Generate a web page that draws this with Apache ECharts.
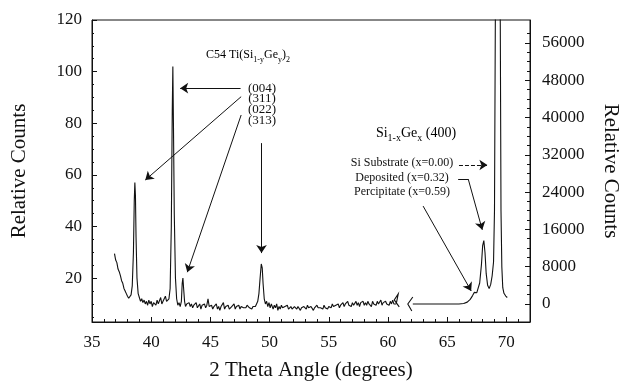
<!DOCTYPE html>
<html>
<head>
<meta charset="utf-8">
<script src="https://cdn.jsdelivr.net/npm/echarts@6/dist/echarts.min.js"></script>
<style>
  html, body { margin: 0; padding: 0; background: #fff; }
  #main { width: 622px; height: 384px; }
</style>
</head>
<body>
<div id="main"></div>
<script>
// C54 TiSi2 side of the scan, read on the left axis: [2theta, counts]
var c54Scan = [
  [36.9, 29.5], [37.0, 27], [37.1, 26], [37.2, 23.5], [37.3, 22.5], [37.4, 21], [37.5, 19],
  [37.6, 18], [37.7, 16], [37.8, 15], [37.9, 14], [38.0, 13], [38.1, 12.2], [38.2, 12.5],
  [38.3, 13.5], [38.4, 17], [38.5, 30], [38.57, 50], [38.62, 57], [38.67, 52], [38.72, 36],
  [38.8, 20], [38.9, 14], [39.0, 12.5], [39.1, 11], [39.2, 12], [39.3, 10.5], [39.4, 11.5],
  [39.5, 10], [39.6, 11], [39.7, 9.5], [39.8, 11.5], [39.9, 10], [40.0, 11], [40.1, 9],
  [40.2, 10.5], [40.3, 11], [40.4, 9.5], [40.5, 11.5], [40.6, 10], [40.7, 10.5], [40.8, 12.5],
  [40.9, 10], [41.0, 11], [41.1, 10.5], [41.2, 13], [41.3, 11], [41.4, 11.5], [41.5, 12],
  [41.6, 16], [41.7, 40], [41.78, 85], [41.83, 102], [41.88, 80], [41.95, 45], [42.05, 20],
  [42.15, 12], [42.25, 9.5], [42.35, 10.5], [42.45, 9], [42.55, 11], [42.62, 18], [42.68, 20],
  [42.74, 16], [42.82, 11], [42.9, 9], [43.0, 10], [43.1, 9.5], [43.2, 10.5], [43.3, 9],
  [43.4, 10], [43.5, 8.5], [43.6, 9.5], [43.7, 9], [43.8, 10.5], [43.9, 8.5], [44.0, 9],
  [44.1, 10], [44.2, 8], [44.3, 9.5], [44.4, 9], [44.5, 10], [44.6, 8.5], [44.7, 9.5],
  [44.8, 12], [44.9, 9], [45.0, 8.5], [45.1, 9.5], [45.2, 8], [45.3, 9], [45.4, 8.5],
  [45.5, 10], [45.6, 8], [45.7, 9], [45.8, 7.5], [45.9, 9], [46.0, 8.5], [46.1, 10.5],
  [46.2, 8], [46.3, 9], [46.4, 8.5], [46.5, 9.5], [46.6, 8], [46.7, 7.5], [46.8, 9],
  [46.9, 8.5], [47.0, 10], [47.1, 8], [47.2, 9], [47.3, 8.5], [47.4, 9.5], [47.5, 8],
  [47.6, 9], [47.7, 9.5], [47.8, 8.5], [47.9, 9], [48.0, 8.5], [48.1, 9.5], [48.2, 9],
  [48.3, 8.5], [48.4, 9], [48.5, 8], [48.6, 9], [48.7, 8.5], [48.8, 9], [48.9, 10],
  [49.0, 11], [49.1, 14], [49.2, 20], [49.3, 25.5], [49.38, 24], [49.45, 18], [49.55, 12],
  [49.65, 10], [49.75, 11], [49.85, 9], [49.95, 10.5], [50.05, 8.5], [50.15, 10], [50.25, 9.5],
  [50.3, 8], [50.4, 9.5], [50.5, 8.5], [50.6, 10], [50.7, 7.5], [50.8, 9], [50.9, 8],
  [51.0, 9.5], [51.1, 8.5], [51.2, 8], [51.3, 9], [51.4, 8.5], [51.5, 9.5], [51.6, 8],
  [51.7, 8.5], [51.8, 9], [51.9, 8], [52.0, 8.5], [52.1, 9], [52.2, 8.5], [52.3, 8],
  [52.4, 9], [52.5, 8.5], [52.6, 7.5], [52.7, 8.5], [52.8, 8], [52.9, 9], [53.0, 8.5],
  [53.1, 8], [53.2, 9.5], [53.3, 8.5], [53.4, 8], [53.5, 9], [53.6, 8.5], [53.7, 7.5],
  [53.8, 8.5], [53.9, 8], [54.0, 9.5], [54.1, 8.5], [54.2, 8], [54.3, 8.5], [54.4, 9],
  [54.5, 8], [54.6, 9.5], [54.7, 8.5], [54.8, 9], [54.9, 8], [55.0, 9], [55.1, 9.5],
  [55.2, 8.5], [55.3, 10], [55.4, 9], [55.5, 8.5], [55.6, 9.5], [55.7, 9], [55.8, 10],
  [55.9, 8.5], [56.0, 9.5], [56.1, 9], [56.2, 10.5], [56.3, 9], [56.4, 10], [56.5, 9.5],
  [56.6, 11], [56.7, 9.5], [56.8, 10], [56.9, 9], [57.0, 10.5], [57.1, 9.5], [57.2, 10],
  [57.3, 11], [57.4, 9.5], [57.5, 10.5], [57.6, 9], [57.7, 10.5], [57.8, 10], [57.9, 11],
  [58.0, 9.5], [58.1, 10.5], [58.2, 9.5], [58.3, 11], [58.4, 10], [58.5, 10.5], [58.6, 9],
  [58.7, 11], [58.8, 10], [58.9, 10.5], [59.0, 9.5], [59.1, 11], [59.2, 10], [59.3, 10.5],
  [59.4, 11.5], [59.5, 9.5], [59.6, 10.5], [59.7, 10], [59.8, 11], [59.9, 10], [60.0, 10.5],
  [60.1, 9.5], [60.2, 11], [60.3, 10], [60.4, 11.5], [60.5, 10], [60.6, 10.5], [60.7, 10]
];

// Si1-xGe(400) side of the scan, read on the right axis: [2theta, counts]
var sigeScan = [
  [62.1, 0], [63.0, 0], [64.0, 0], [65.0, 0], [66.0, 0], [66.4, 100], [66.7, 400],
  [66.95, 1000], [67.15, 1800], [67.3, 2500], [67.4, 2700], [67.5, 2400], [67.6, 2800],
  [67.75, 4500], [67.9, 8500], [68.0, 12500], [68.1, 13600], [68.2, 11000], [68.3, 6500],
  [68.42, 4000], [68.55, 3300], [68.68, 4200], [68.8, 6000], [68.92, 9000], [69.0, 20000],
  [69.07, 60000], [69.15, 82000], [69.28, 95000], [69.4, 82000], [69.49, 60000],
  [69.55, 20000], [69.62, 8000], [69.7, 3500], [69.8, 2300], [69.95, 1700], [70.08, 1400]
];

var xTicks = [35, 40, 45, 50, 55, 60, 65, 70];
var leftTicks = [20, 40, 60, 80, 100, 120];
var rightTicks = [0, 8000, 16000, 24000, 32000, 40000, 48000, 56000];
var millerLabels = ['(004)', '(311)', '(022)', '(313)'];
var sigeLabels = ['Si Substrate (x=0.00)', 'Deposited (x=0.32)', 'Percipitate (x=0.59)'];

var FONT = 'Liberation Serif';
var INK = '#111';

var leftMinor = [];
for (var v = 5; v < 120; v += 5) if (v % 20) leftMinor.push(v);
var rightMinor = [];
for (var w = 2000; w < 60000; w += 2000) if (w % 8000) rightMinor.push(w);

function arrow(from, to, extra) {
  var a = { coord: from, symbol: 'none' };
  var b = Object.assign({ coord: to }, extra || {});
  return [a, b];
}

var chart = echarts.init(document.getElementById('main'));

var option = {
  animation: false,
  grid: { left: 92, right: 92, top: 20, bottom: 62, show: true, borderColor: INK, borderWidth: 1,
    outerBoundsMode: 'none', containLabel: false },
  xAxis: {
    type: 'value', min: 35, max: 72, interval: 5,
    name: '2 Theta Angle (degrees)', nameLocation: 'middle', nameGap: 38,
    nameTextStyle: { fontFamily: FONT, fontSize: 21, color: INK },
    axisLine: { onZero: false, lineStyle: { color: INK } },
    axisTick: { inside: true, length: 5, lineStyle: { color: INK } },
    minorTick: { show: true, splitNumber: 5, length: 3, lineStyle: { color: INK } },
    axisLabel: { fontFamily: FONT, fontSize: 17, color: INK, margin: 12, customValues: xTicks },
    splitLine: { show: false }
  },
  yAxis: [
    {
      type: 'value', position: 'left', min: 3, max: 120,
      name: 'Relative Counts', nameLocation: 'middle', nameGap: 62,
      nameTextStyle: { fontFamily: FONT, fontSize: 21, color: INK },
      axisLine: { show: true, onZero: false, lineStyle: { color: INK } },
      axisTick: { show: true, inside: true, length: 5, customValues: leftTicks, lineStyle: { color: INK } },
      axisLabel: { fontFamily: FONT, fontSize: 17, color: INK, margin: 10, customValues: leftTicks },
      splitLine: { show: false }
    },
    {
      type: 'value', position: 'right', min: -3860, max: 60900,
      name: 'Relative Counts', nameLocation: 'middle', nameGap: 70, nameRotate: -90,
      nameTextStyle: { fontFamily: FONT, fontSize: 21, color: INK },
      axisLine: { show: true, onZero: false, lineStyle: { color: INK } },
      axisTick: { show: true, inside: true, length: 5, customValues: rightTicks, lineStyle: { color: INK } },
      axisLabel: { fontFamily: FONT, fontSize: 17, color: INK, margin: 12, customValues: rightTicks,
        formatter: function (val) { return String(val); } },
      splitLine: { show: false }
    },
    {
      type: 'value', position: 'left', min: 3, max: 120,
      axisLine: { show: false, onZero: false },
      axisTick: { show: true, inside: true, length: 2, customValues: leftMinor, lineStyle: { color: INK } },
      axisLabel: { show: false }, splitLine: { show: false }
    },
    {
      type: 'value', position: 'right', min: -3860, max: 60900,
      axisLine: { show: false, onZero: false },
      axisTick: { show: true, inside: true, length: 3, customValues: rightMinor, lineStyle: { color: INK } },
      axisLabel: { show: false }, splitLine: { show: false }
    }
  ],
  series: [
    {
      name: 'C54', type: 'line', xAxisIndex: 0, yAxisIndex: 0,
      data: c54Scan, showSymbol: false, silent: true,
      lineStyle: { color: INK, width: 1.1 },
      markLine: {
        silent: true, animation: false, symbol: ['none', 'arrow'], symbolSize: 8,
        label: { show: false },
        lineStyle: { color: INK, width: 1, type: 'solid' },
        data: [
          arrow([47.55, 93.6], [42.45, 93.6]),
          arrow([47.6, 90.3], [39.5, 58]),
          arrow([47.6, 83.2], [43.05, 22.3]),
          arrow([49.32, 72.3], [49.32, 29.7])
        ]
      }
    },
    {
      name: 'SiGe', type: 'line', xAxisIndex: 0, yAxisIndex: 1,
      data: sigeScan, showSymbol: false, silent: true,
      lineStyle: { color: INK, width: 1.1 },
      markLine: {
        silent: true, animation: false, symbol: ['none', 'arrow'], symbolSize: 8,
        label: { show: false },
        lineStyle: { color: INK, width: 1, type: 'solid' },
        data: [
          [{ coord: [66.0, 29800], symbol: 'none', lineStyle: { type: 'dashed' } }, { coord: [68.4, 29800] }],
          arrow([65.93, 26800], [66.78, 26800], { symbol: 'none' }),
          arrow([66.78, 26800], [67.97, 15900]),
          arrow([62.97, 21000], [67.03, 2800])
        ]
      }
    }
  ]
};

chart.setOption(option);

function rich(size, sub) {
  return {
    n: { fontFamily: FONT, fontSize: size, color: INK, verticalAlign: 'bottom', padding: [0, 0, 3, 0] },
    s: { fontFamily: FONT, fontSize: sub, color: INK, verticalAlign: 'bottom' }
  };
}

// axis break marks, anchored on the two scan ends
var p1 = chart.convertToPixel({ xAxisIndex: 0, yAxisIndex: 0 }, c54Scan[c54Scan.length - 1]);
var p2 = chart.convertToPixel({ xAxisIndex: 0, yAxisIndex: 1 }, sigeScan[0]);

chart.setOption({
  graphic: [
    {
      type: 'text', x: 248, y: 56,
      style: { text: '{n|C54 Ti(Si}{s|1-y}{n|Ge}{s|y}{n|)}{s|2}', rich: rich(12, 8),
        align: 'center', verticalAlign: 'middle' }
    },
    {
      type: 'text', x: 262, y: 83,
      style: { text: millerLabels.join('\n'), fontFamily: FONT, fontSize: 13, lineHeight: 10.7,
        fill: INK, align: 'center', verticalAlign: 'top' }
    },
    {
      type: 'text', x: 416, y: 135,
      style: { text: '{n|Si}{s|1-x}{n|Ge}{s|x}{n| (400)}', rich: rich(14, 10),
        align: 'center', verticalAlign: 'middle' }
    },
    {
      type: 'text', x: 402, y: 156,
      style: { text: sigeLabels.join('\n'), fontFamily: FONT, fontSize: 12, lineHeight: 14.5,
        fill: INK, align: 'center', verticalAlign: 'top' }
    },
    {
      type: 'polyline',
      shape: { points: [[p1[0], p1[1]], [p1[0] + 2, p1[1] - 10], [p1[0] - 2, p1[1] - 4], [p1[0] + 3, p1[1] + 3]] },
      style: { stroke: INK, lineWidth: 1.1, fill: null }
    },
    {
      type: 'polyline',
      shape: { points: [[p2[0], p2[1] - 7], [p2[0] - 5, p2[1]], [p2[0] - 1, p2[1] + 7]] },
      style: { stroke: INK, lineWidth: 1.1, fill: null }
    }
  ]
});
</script>
</body>
</html>
